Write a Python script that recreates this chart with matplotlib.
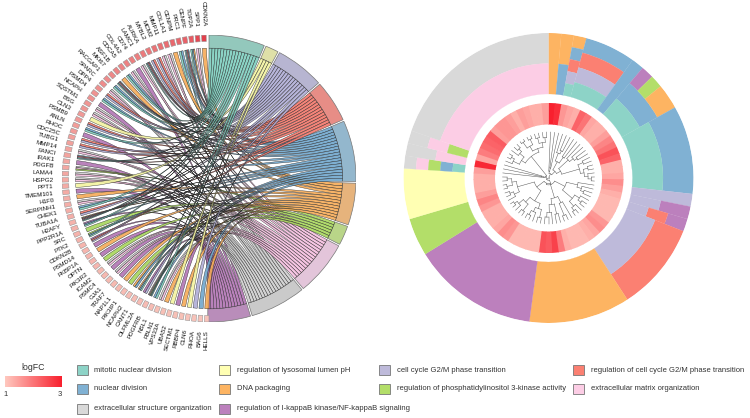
#!/usr/bin/python3
import numpy as np
import matplotlib
matplotlib.use("Agg")
import matplotlib.pyplot as plt
from matplotlib.colors import LinearSegmentedColormap
from matplotlib.patches import Wedge, PathPatch, Rectangle
from matplotlib.path import Path

plt.rcParams["font.family"] = ["Liberation Sans", "DejaVu Sans"]

term_codes = ["T", "Y", "L", "R", "B", "O", "G", "P", "A", "V"]
term_names = [
    "mitotic nuclear division",
    "regulation of lysosomal lumen pH",
    "cell cycle G2/M phase transition",
    "regulation of cell cycle G2/M phase transition",
    "nuclear division",
    "DNA packaging",
    "regulation of phosphatidylinositol 3-kinase activity",
    "extracellular matrix organization",
    "extracellular structure organization",
    "regulation of I-kappaB kinase/NF-kappaB signaling",
]
term_colors = ["#8dd3c7", "#ffffb3", "#bebada", "#fb8072", "#80b1d3",
               "#fdb462", "#b3de69", "#fccde5", "#d9d9d9", "#bc80bd"]
ring_colors = ["#93c8bc", "#dfe0a8", "#b7b5d1", "#e78d86", "#93b7cd",
               "#e6b37c", "#b9d588", "#e3c5da", "#cacaca", "#b98dba"]
ribbon_colors = ["#7fcfbf", "#f3f3a0", "#b0add6", "#f4776a", "#70a6cc",
                 "#f5ab58", "#a8d65c", "#f5bfe0", "#cfcfcf", "#b274b4"]

genes = ["CDKN2A", "SPP1", "TOP2A", "CENPF", "PRC1", "CENPM", "COL1A1", "MMP11", "MCM2", "MYBL2",
         "AURKA", "LAMC1", "CD74", "COL4A2", "CDCA5", "ASF1B", "MKI67", "RACGAP1", "SPARC", "DPP4",
         "PSMD4", "NCAPH", "SQSTM1", "BSG", "CLN3", "PSMB9", "ANLN", "RHOC", "CDC25C", "TUBG1",
         "MMP14", "FANCI", "IRAK1", "PDGFB", "LAMA4", "HSPG2", "PPT1", "TMEM101", "H1F0", "SERPINH1",
         "CHEK1", "TUBA1A", "H2AFY", "PPP2R1A", "SRC", "PTK2", "CDKN2B", "PSMD14", "FKBP1A", "OPTN",
         "PIK3R2", "ICAM2", "PSMC4", "GJA1", "TRAF7", "NAP1L1", "PIK3IP1", "NCAPH2", "CANT1", "OLFML2A",
         "PDGFRB", "NSL1", "FBLN1", "VPS33A", "UBA52", "SECTM1", "RBBP4", "CLN6", "RHOA", "BAG6", "HELLS"]
gene_terms = ["O", "AP", "OBT", "BRLT", "BT", "O", "AP", "AP", "RL", "RL",
              "BRLT", "AP", "V", "AP", "BT", "O", "BRLT", "BT", "AP", "RL",
              "BT", "V", "AP", "AP", "Y", "RL", "BT", "V", "RL", "RL",
              "AP", "BRLT", "V", "APG", "AP", "AP", "Y", "V", "O", "AP",
              "BT", "RL", "OBRLT", "VBT", "G", "GBT", "VRL", "V", "O", "V",
              "G", "AP", "V", "AP", "V", "O", "G", "OB", "OBT", "VL",
              "APGBT", "BT", "AP", "O", "Y", "V", "O", "Y", "L", "B", "O"]
gene_logfc = [3.0, 2.85, 2.6, 2.5, 2.45, 2.4, 2.35, 2.3, 2.25, 2.2,
              2.15, 2.1, 2.1, 2.05, 2.0, 2.0, 1.95, 1.9, 1.9, 1.85,
              1.8, 1.8, 1.75, 1.75, 1.7, 1.7, 1.65, 1.65, 1.6, 1.6,
              1.55, 1.55, 1.5, 1.5, 1.5, 1.45, 1.45, 1.45, 1.4, 1.4,
              1.4, 1.4, 1.35, 1.35, 1.35, 1.35, 1.3, 1.3, 1.3, 1.3,
              1.3, 1.25, 1.25, 1.25, 1.25, 1.25, 1.2, 1.2, 1.2, 1.2,
              1.2, 1.2, 1.15, 1.15, 1.15, 1.15, 1.15, 1.1, 1.1, 1.1, 1.1]

# clockwise from the top, outer layer first
cluster_terms = ["O", "OB", "OBRLT", "BRLT", "BRLT", "BRLT", "BRLT", "B", "VBT", "GBT",
                 "OBT", "OBT", "BT", "BT", "BT", "BT", "BT", "BT", "BT", "L",
                 "VL", "VRL", "RL", "RL", "RL", "RL", "RL", "RL", "RL", "O",
                 "O", "O", "O", "O", "O", "O", "O", "V", "V", "V",
                 "V", "V", "V", "V", "V", "V", "V", "G", "G", "G",
                 "Y", "Y", "Y", "Y", "APGBT", "AP", "APG", "AP", "AP", "AP",
                 "AP", "AP", "AP", "AP", "AP", "AP", "AP", "AP", "AP", "AP", "AP"]
cluster_logfc = [3.0, 2.85, 1.6, 1.4, 1.3, 2.2, 2.0, 1.4, 1.3, 1.3,
                 1.5, 1.8, 2.0, 2.4, 2.2, 1.3, 1.3, 1.4, 1.7, 1.5,
                 1.3, 1.2, 1.2, 1.2, 1.2, 1.6, 1.7, 1.4, 1.3, 1.2,
                 1.2, 1.2, 1.3, 1.9, 2.6, 2.3, 2.4, 1.2, 1.2, 1.2,
                 1.2, 1.2, 1.6, 1.7, 1.4, 1.3, 1.3, 1.3, 1.6, 1.8,
                 1.5, 1.3, 1.3, 1.3, 1.5, 2.9, 1.4, 1.9, 2.1, 2.2,
                 2.3, 1.5, 1.6, 1.6, 1.5, 1.3, 1.5, 1.4, 1.3, 1.3, 1.5]

# dendrogram as nested (height, left, right), 0 is a leaf
t1 = (.85, 0, (.78, 0, 0))
t2 = (.6, (.42, 0, (.35, 0, 0)), (.45, 0, 0))
t3 = (.42, 0, (.32, 0, (.25, 0, 0)))
t4 = (.3, (.18, 0, 0), (.22, (.12, 0, 0), (.14, 0, (.07, 0, 0))))
t5 = (.35, 0, (.25, 0, (.18, 0, 0)))
t6 = (.32, (.2, 0, (.12, 0, 0)), (.18, 0, (.1, 0, 0)))
t7 = (.55, (.4, 0, (.12, 0, 0)), (.42, (.2, 0, 0), (.25, 0, (.15, 0, 0))))
t8 = (.42, (.3, (.12, 0, 0), (.2, 0, (.1, 0, 0))), (.28, (.1, 0, 0), (.15, 0, (.08, 0, 0))))
t9 = (.3, (.18, 0, (.1, 0, 0)), (.2, (.08, 0, 0), (.1, 0, 0)))
t10 = (.9, 0, (.85, 0, 0))
t11 = (.4, (.3, (.15, 0, (.08, 0, 0)), (.18, 0, (.1, 0, 0))),
       (.32, (.2, (.05, 0, 0), (.07, 0, 0)), (.22, (.1, 0, 0), (.12, 0, 0))))
tree = (.98, (.9, t1, (.8, t2, (.7, t3, t4))),
        (.95, (.85, (.6, t5, t6), (.88, t7, (.68, t8, t9))), (.93, t10, t11)))

fc_cmap = LinearSegmentedColormap.from_list("fc", ["#ffc8bf", "#f8202e"])
square_cmap = LinearSegmentedColormap.from_list("sq", ["#f9cabf", "#e23f4b"])


def fc_norm(v):
    return (v - 1.0) / 2.0


def ribbon(gene_a, gene_b, term_a, term_b, r):
    ga = np.radians(np.linspace(gene_a, gene_b, 5))
    ta = np.radians(np.linspace(term_a, term_b, 8))
    verts = [(r * np.cos(a), r * np.sin(a)) for a in ga]
    codes = [Path.MOVETO] + [Path.LINETO] * 4
    verts += [(0, 0), (r * np.cos(ta[0]), r * np.sin(ta[0]))]
    codes += [Path.CURVE3, Path.CURVE3]
    verts += [(r * np.cos(a), r * np.sin(a)) for a in ta[1:]]
    codes += [Path.LINETO] * 7
    verts += [(0, 0), (r * np.cos(ga[0]), r * np.sin(ga[0]))]
    codes += [Path.CURVE3, Path.CURVE3]
    return Path(verts, codes)


def plot_chord(ax):
    ax.set_xlim(-1, 1)
    ax.set_ylim(-1, 1)
    ax.axis("off")
    r_in = 0.908
    unit = 1.3
    gap = 0.7
    counts = {c: sum(c in s for s in gene_terms) for c in term_codes}
    # term sectors, clockwise from the top
    start = {}
    pos = 0.0
    for c, col in zip(term_codes, ring_colors):
        w = counts[c] * unit
        start[c] = pos
        ax.add_patch(Wedge((0, 0), 1.0, 90 - pos - w, 90 - pos, width=1 - r_in,
                           facecolor=col, edgecolor="#777777", lw=0.5))
        pos += w + gap
    used = {c: 0 for c in term_codes}
    pitch = 2.53
    gene_w = 0.9
    for i, (name, terms, fc) in enumerate(zip(genes, gene_terms, gene_logfc)):
        phi = 90 + 2 + i * pitch
        ax.add_patch(Wedge((0, 0), 1.0, phi - gene_w, phi + gene_w, width=0.045,
                           facecolor=square_cmap(fc_norm(fc)), edgecolor="#999999", lw=0.4))
        ax.text(1.06 * np.cos(np.radians(phi)), 1.06 * np.sin(np.radians(phi)), name,
                rotation=phi + 180, rotation_mode="anchor", ha="right", va="center",
                fontsize=4.5, color="#111111", clip_on=False)
        sub = 2 * gene_w / len(terms)
        for j, c in enumerate(terms):
            k = term_codes.index(c)
            a = 90 - start[c] - used[c] * unit
            used[c] += 1
            g0 = phi - gene_w + j * sub
            path = ribbon(g0, g0 + sub, a, a - unit, r_in)
            ax.add_patch(PathPatch(path, facecolor=ribbon_colors[k], edgecolor="#222222",
                                   lw=0.3, alpha=0.9))


def draw_tree(ax, node, state, radius):
    if node == 0:
        theta = (state["i"] + 0.5) * state["w"]
        state["i"] += 1
        return theta, radius
    h, left, right = node
    t1_, r1 = draw_tree(ax, left, state, radius)
    t2_, r2 = draw_tree(ax, right, state, radius)
    r = radius * (1 - h)
    ax.plot([t1_, t1_], [r, r1], color="#555555", lw=0.35)
    ax.plot([t2_, t2_], [r, r2], color="#555555", lw=0.35)
    ax.plot(np.linspace(t1_, t2_, 12), [r] * 12, color="#555555", lw=0.35)
    return (t1_ + t2_) / 2, r


def plot_cluster(ax):
    ax.set_theta_zero_location("N")
    ax.set_theta_direction(-1)
    ax.set_ylim(0, 145)
    ax.axis("off")
    w = 2 * np.pi / len(cluster_terms)
    r_low, r_high = 84.0, 145.0
    # neighbouring columns with the same band become one bar, so no seams show
    bands = []
    for i, (terms, fc) in enumerate(zip(cluster_terms, cluster_logfc)):
        ax.bar((i + 0.5) * w, 21.5, width=w * 1.12, bottom=53.5, color=fc_cmap(fc_norm(fc)), lw=0)
        dr = (r_high - r_low) / len(terms)
        for j, c in enumerate(terms):
            key = (c, len(terms), j)
            for band in bands:
                if band["key"] == key and band["end"] == i:
                    band["end"] = i + 1
                    break
            else:
                bands.append({"key": key, "start": i, "end": i + 1, "dr": dr, "j": j})
    for band in bands:
        col = term_colors[term_codes.index(band["key"][0])]
        ax.bar((band["start"] + band["end"]) / 2 * w, band["dr"],
               width=(band["end"] - band["start"]) * w,
               bottom=r_high - (band["j"] + 1) * band["dr"],
               color=col, edgecolor=col, lw=0.15)
    draw_tree(ax, tree, {"i": 0, "w": w}, 46.0)


def plot_legend(ax):
    ax.set_xlim(0, 750)
    ax.set_ylim(418, 0)
    ax.axis("off")
    ax.text(33, 367, "logFC", fontsize=6.3, ha="center", va="center", color="#333333")
    grad = np.linspace(0, 1, 200)[None, :]
    ax.imshow(grad, cmap=fc_cmap, extent=(5, 62, 387, 376), aspect="auto", zorder=2)
    ax.set_xlim(0, 750)
    ax.set_ylim(418, 0)
    ax.text(6, 394, "1", fontsize=5.5, ha="center", va="center", color="#333333")
    ax.text(60, 394, "3", fontsize=5.5, ha="center", va="center", color="#333333")
    swatch_x = [77, 219, 379, 573]
    text_x = [94, 237, 397, 591]
    rows_y = [370, 389, 409]
    for i, (name, col) in enumerate(zip(term_names_ordered, colors_ordered)):
        row, column = i // 4, i % 4
        ax.add_patch(Rectangle((swatch_x[column], rows_y[row] - 5), 11, 10,
                               facecolor=col, edgecolor="#777777", lw=0.6))
        ax.text(text_x[column], rows_y[row], name, fontsize=5.5, va="center", color="#333333")


legend_order = ["T", "Y", "L", "R", "B", "O", "G", "P", "A", "V"]
term_names_ordered = [term_names[term_codes.index(c)] for c in legend_order]
colors_ordered = [term_colors[term_codes.index(c)] for c in legend_order]

if __name__ == "__main__":
    fig = plt.figure(figsize=(7.5, 4.18), dpi=100)
    ax_legend = fig.add_axes([0, 0, 1, 1])
    plot_legend(ax_legend)
    ax_chord = fig.add_axes([62 / 750, 1 - 322 / 418, 294 / 750, 287 / 418])
    plot_chord(ax_chord)
    ax_cluster = fig.add_axes([403 / 750, 1 - 323 / 418, 291 / 750, 290 / 418], projection="polar")
    plot_cluster(ax_cluster)
    fig.savefig("out.png", dpi=100)
